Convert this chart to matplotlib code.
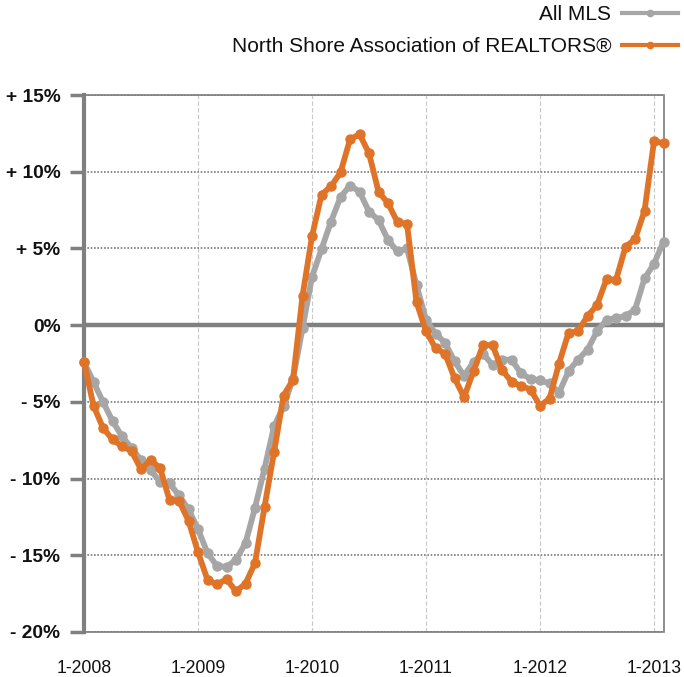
import matplotlib
matplotlib.use('Agg')
import matplotlib.pyplot as plt
import numpy as np

plt.rcParams['font.family'] = ['Liberation Sans', 'DejaVu Sans']

# monthly year-over-year change, 1-2008 .. 2-2013
all_mls = [-2.4, -3.7, -5.0, -6.25, -7.25, -8.0, -8.8, -9.45, -10.2, -10.3,
           -11.1, -12.0, -13.3, -14.85, -15.7, -15.75, -15.3, -14.2, -11.9, -9.35,
           -6.6, -5.3, -3.5, -0.2, 3.15, 4.95, 6.75, 8.35, 9.1, 8.7,
           7.4, 6.85, 5.55, 4.8, 5.0, 2.6, 0.35, -0.55, -1.15, -2.35,
           -3.3, -2.4, -1.85, -2.6, -2.25, -2.25, -3.15, -3.5, -3.6, -3.8,
           -4.4, -3.0, -2.25, -1.6, -0.4, 0.35, 0.45, 0.6, 1.0, 3.05,
           4.0, 5.45]
north_shore = [-2.4, -5.25, -6.7, -7.45, -7.9, -8.2, -9.4, -8.8, -9.3, -11.4,
               -11.45, -12.75, -14.8, -16.6, -16.9, -16.55, -17.35, -16.85, -15.5, -11.85,
               -8.3, -4.6, -3.55, 1.9, 5.8, 8.5, 9.05, 9.95, 12.1, 12.45,
               11.2, 8.7, 7.95, 6.7, 6.6, 1.5, -0.4, -1.5, -1.85, -3.45,
               -4.7, -3.0, -1.3, -1.3, -2.9, -3.7, -3.95, -4.2, -5.25, -4.8,
               -2.5, -0.5, -0.4, 0.6, 1.3, 3.0, 2.95, 5.1, 5.6, 7.45,
               12.0, 11.85]
months = np.arange(len(all_mls))

year_ticks = [0, 12, 24, 36, 48, 60]
year_labels = ['1-2008', '1-2009', '1-2010', '1-2011', '1-2012', '1-2013']
y_ticks = [-20, -15, -10, -5, 0, 5, 10, 15]
y_labels = ['- 20%', '- 15%', '- 10%', '- 5%', '0%', '+ 5%', '+ 10%', '+ 15%']

gray = '#a6a6a6'
orange = '#df7429'
axis_gray = '#808080'

fig = plt.figure(figsize=(6.84, 6.77), dpi=100)
ax = fig.add_axes([84/684, 45/677, 580/684, 537/677])

ax.plot(months, all_mls, color=gray, lw=4.2, marker='o', ms=6.5,
        label='All MLS', zorder=3, clip_on=False)
ax.plot(months, north_shore, color=orange, lw=4.2, marker='o', ms=6.5,
        label='North Shore Association of REALTORS®', zorder=4, clip_on=False)

ax.axhline(0, color=axis_gray, lw=3.2, zorder=2)

ax.set_xlim(0, 61.05)
ax.set_ylim(-20, 15)

ax.set_xticks(year_ticks)
ax.set_xticklabels(year_labels, fontsize=12.7, color='#111111')
ax.set_yticks(y_ticks)
ax.set_yticklabels(y_labels, fontsize=13.8, color='#111111', fontweight='bold')
ax.tick_params(axis='x', length=0, pad=20)
ax.tick_params(axis='y', direction='out', length=10, width=2.5,
               color=axis_gray, pad=7)

ax.xaxis.grid(True, color='#c8c8c8', lw=0.8, linestyle=(0, (4, 2)))
ax.yaxis.grid(True, color='#7a7a7a', lw=1.2, linestyle=(0, (1, 1)))
ax.set_axisbelow(True)

ax.spines['left'].set_color(axis_gray)
ax.spines['left'].set_linewidth(3)
for s in ['top', 'right', 'bottom']:
    ax.spines[s].set_color('#7a7a7a')
    ax.spines[s].set_linewidth(1.2)
    ax.spines[s].set_linestyle((0, (1, 1)))

leg = ax.legend(loc='upper right', bbox_to_anchor=(678/684, 1 - 5/677),
                bbox_transform=fig.transFigure, frameon=False,
                markerfirst=False, fontsize=15, handlelength=2.7,
                handletextpad=0.5, labelspacing=0.62, borderpad=0,
                borderaxespad=0, numpoints=1)
for t in leg.get_texts():
    t.set_color('#111111')
for h in leg.legend_handles:
    h.set_linewidth(3)
    h.set_markersize(4.5)

fig.savefig('out.png', dpi=100)
